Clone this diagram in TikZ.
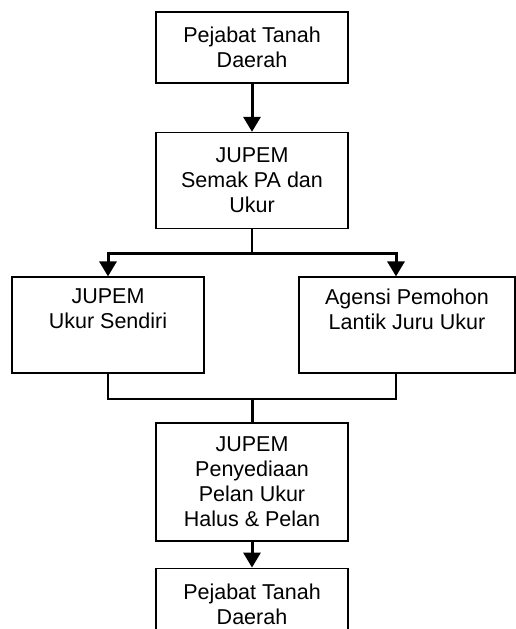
\documentclass[tikz,border=0pt]{standalone}
\usepackage{fontspec}
\setmainfont{Liberation Sans}
\usepackage{tikz}
\usetikzlibrary{positioning, arrows.meta}
\tikzstyle{box} = [rectangle, minimum width=192pt, minimum height=71pt, inner sep=0pt, align=center, text centered, draw=black, line width=1.6pt]
\tikzstyle{arrow} = [line width=3pt,-{Triangle[width=17pt,length=15pt]}]
\tikzstyle{line} = [line width=1.6pt]
\tikzstyle{every node}=[font=\fontsize{21.5}{25}\selectfont]

\begin{document}
\begin{tikzpicture}[x=1pt,y=1pt]
	\useasboundingbox (0,0) rectangle (516,-629);
	\node (ptd1) [box] at (252,-47.5) {Pejabat Tanah\\Daerah};
	\node (semak) [box, below=48pt of ptd1, minimum height=96pt] {JUPEM\\Semak PA dan\\Ukur};
	\node (sendiri) [box, below=47pt of semak, xshift=-144pt, minimum height=96pt] {JUPEM\\Ukur Sendiri\\\strut};
	\node (agensi) [box, below=47pt of semak, xshift=155pt, minimum width=216pt, minimum height=96pt] {Agensi Pemohon\\Lantik Juru Ukur\\\strut};
	\node (pelan) [box, below=48pt of sendiri, xshift=144pt, minimum height=118pt] {JUPEM\\Penyediaan\\Pelan Ukur\\Halus \& Pelan};
	\node (ptd2) [box, below=26pt of pelan] {Pejabat Tanah\\Daerah};
	%sambung kotak
	\draw [arrow](ptd1) -- (semak);
	\draw [line](semak.south) -- ++(0,-24) coordinate (pecah);
	\draw [arrow](pecah) -| (sendiri.north);
	\draw [arrow](pecah) -| ([xshift=-11pt]agensi.north);
	\draw [line](sendiri.south) |- ([yshift=23pt]pelan.north) coordinate (cantum) -| ([xshift=-11pt]agensi.south);
	\draw [line width=3pt](cantum) -- (pelan.north);
	\draw [arrow](pelan) -- (ptd2);
\end{tikzpicture}
\end{document}
